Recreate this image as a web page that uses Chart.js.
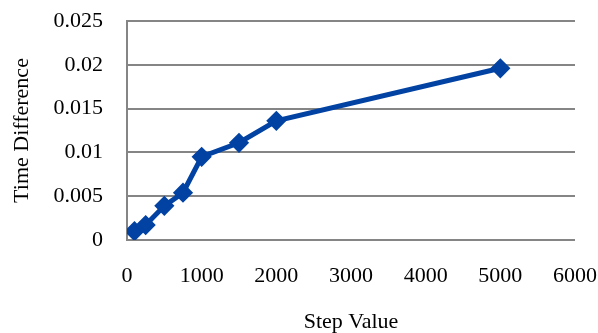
<!DOCTYPE html>
<html>
<head>
<meta charset="utf-8">
<script src="https://cdn.jsdelivr.net/npm/chart.js@4/dist/chart.umd.min.js"></script>
<style>
  html, body { margin: 0; padding: 0; background: #fff; }
  #wrap { width: 598px; height: 333px; position: relative; }
</style>
</head>
<body>
<div id="wrap"><canvas id="chart"></canvas></div>
<script>
// step sizes and the measured time difference for each
const stepValues = [100, 250, 500, 750, 1000, 1500, 2000, 5000];
const timeDiffs = [0.001, 0.0017, 0.0039, 0.0054, 0.0095, 0.0111, 0.0136, 0.0196];

const blue = '#0242a2',
    gridGray = '#858585',
    serif = 'Liberation Serif, Times New Roman, serif';

const points = stepValues.map((x, i) => ({x, y: timeDiffs[i]}));

const config = {
    type: 'line',
    data: {
        datasets: [{
            label: 'Time Difference',
            data: points,
            borderColor: blue,
            backgroundColor: blue,
            borderWidth: 5,
            pointStyle: 'rectRot',
            pointRadius: 8,
            pointBorderWidth: 3,
            pointBackgroundColor: blue,
            pointBorderColor: blue,
            fill: false,
            tension: 0
        }]
    },
    options: {
        responsive: true,
        maintainAspectRatio: false,
        animation: false,
        layout: { padding: { top: 21, right: 23, left: 0, bottom: 0 } },
        plugins: { legend: { display: false }, tooltip: { enabled: false } },
        scales: {
            x: {
                type: 'linear',
                min: 0,
                max: 6000,
                ticks: {
                    stepSize: 1000,
                    padding: 23,
                    color: '#000',
                    font: { family: serif, size: 22 },
                    callback: (v) => String(v)
                },
                grid: { display: false, drawTicks: false },
                border: { display: false },
                title: {
                    display: true,
                    text: 'Step Value',
                    color: '#000',
                    font: { family: serif, size: 22, lineHeight: 1 },
                    padding: { top: 0, bottom: 0 }
                },
                afterFit: (scale) => {
                    scale.height = 93;
                    scale.paddingLeft = 0;
                    scale.paddingRight = 0;
                }
            },
            y: {
                min: 0,
                max: 0.025,
                ticks: {
                    stepSize: 0.005,
                    padding: 24,
                    color: '#000',
                    font: { family: serif, size: 22 },
                    callback: (v) => v === 0 ? '0' : String(+v.toFixed(3))
                },
                grid: { color: gridGray, lineWidth: 2, drawTicks: false },
                border: { display: true, color: gridGray, width: 2 },
                title: {
                    display: true,
                    text: 'Time Difference',
                    color: '#000',
                    font: { family: serif, size: 22, lineHeight: 1 },
                    padding: { top: 11, bottom: 0 }
                },
                afterFit: (scale) => {
                    scale.width = 127;
                    scale.paddingTop = 0;
                    scale.paddingBottom = 0;
                }
            }
        }
    }
};

new Chart(document.getElementById('chart').getContext('2d'), config);
</script>
</body>
</html>
